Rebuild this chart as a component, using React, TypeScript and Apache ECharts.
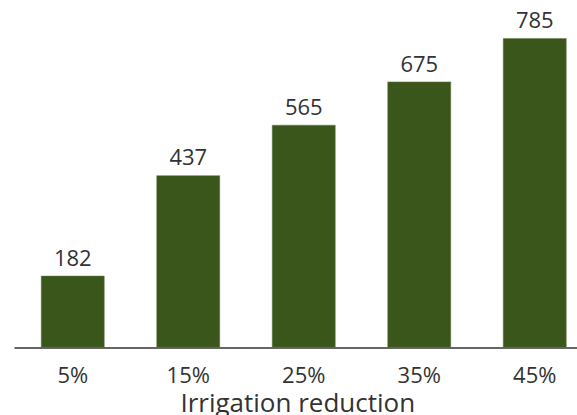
import React, { useEffect, useRef } from "react";
import * as echarts from "echarts";

const categories = ["5%", "15%", "25%", "35%", "45%"];
const values = [182, 437, 565, 675, 785];
const axisTitle = "Irrigation reduction";

export default function App() {
  const ref = useRef<HTMLDivElement>(null);
  useEffect(() => {
    document.body.style.margin = "0";
    if (!ref.current) return;
    const chart = echarts.init(ref.current, undefined, { renderer: "svg" });
    const font = "'Open Sans', 'Noto Sans', sans-serif";
    chart.setOption({
      animation: false,
      textStyle: { fontFamily: font },
      grid: {
        left: 15,
        right: -15.5,
        top: 32.4,
        bottom: 67.5,
        containLabel: false,
        outerBoundsMode: "none",
      },
      xAxis: {
        type: "category",
        data: categories,
        name: axisTitle,
        nameLocation: "middle",
        nameGap: 39,
        nameTextStyle: {
          fontSize: 26,
          lineHeight: 24,
          color: "#333",
          fontFamily: font,
          padding: [0, 12, 0, 0],
        },
        axisLine: { show: true, lineStyle: { color: "#333", width: 1.5 } },
        axisTick: { show: false },
        axisLabel: { fontSize: 22, lineHeight: 18, color: "#333", margin: 17, fontFamily: font },
      },
      yAxis: {
        type: "value",
        min: 0,
        max: 800,
        show: false,
        splitLine: { show: false },
      },
      series: [
        {
          type: "bar",
          data: values,
          barWidth: "55%",
          itemStyle: { color: "#3a561b", borderColor: "#5f7a45", borderWidth: 0.5 },
          label: {
            show: true,
            position: "top",
            distance: 8,
            fontSize: 22,
            color: "#333",
            fontFamily: font,
          },
        },
      ],
    });
    return () => chart.dispose();
  }, []);
  return <div ref={ref} style={{ width: 577, height: 415 }} />;
}
